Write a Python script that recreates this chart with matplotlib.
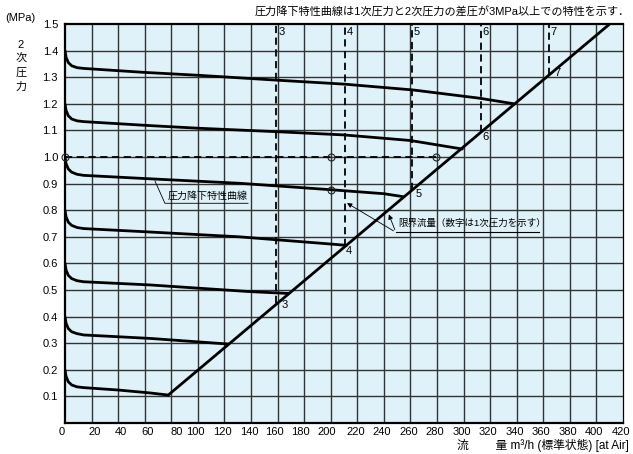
import numpy as np
import matplotlib
matplotlib.use("Agg")
import matplotlib.pyplot as plt
from matplotlib.transforms import ScaledTranslation

plt.rcParams['font.family'] = ['Liberation Sans', 'Noto Sans CJK JP']

# 圧力降下特性曲線 (2次圧力 設定値ごと)
curve_02_x = [0, 0.8, 2.5, 5, 9, 14, 40, 64, 77.7]
curve_02_y = [0.20, 0.175, 0.155, 0.143, 0.136, 0.133, 0.124, 0.113, 0.105]
curve_04_x = [0, 0.8, 2.5, 5, 9, 14, 64, 114, 122.8]
curve_04_y = [0.40, 0.375, 0.355, 0.343, 0.336, 0.331, 0.318, 0.300, 0.297]
curve_06_x = [0, 0.8, 2.5, 5, 9, 14, 64, 139, 168]
curve_06_y = [0.60, 0.575, 0.555, 0.543, 0.535, 0.531, 0.519, 0.494, 0.487]
curve_08_x = [0, 0.8, 2.5, 5, 9, 14, 64, 131, 192, 211.8]
curve_08_y = [0.80, 0.775, 0.755, 0.743, 0.735, 0.731, 0.718, 0.700, 0.676, 0.668]
curve_10_x = [0, 0.8, 2.5, 5, 9, 14, 64, 132, 200, 240, 254.5]
curve_10_y = [1.00, 0.975, 0.955, 0.943, 0.935, 0.931, 0.918, 0.901, 0.877, 0.862, 0.851]
curve_12_x = [0, 0.8, 2.5, 5, 9, 14, 64, 101, 160, 210, 260, 299]
curve_12_y = [1.20, 1.175, 1.155, 1.143, 1.136, 1.133, 1.118, 1.108, 1.095, 1.083, 1.062, 1.03]
curve_14_x = [0, 0.8, 2.5, 5, 9, 14, 60, 101, 159, 210, 262, 312, 338]
curve_14_y = [1.40, 1.375, 1.355, 1.343, 1.336, 1.333, 1.318, 1.307, 1.289, 1.274, 1.252, 1.221, 1.20]

curves = [(curve_02_x, curve_02_y), (curve_04_x, curve_04_y), (curve_06_x, curve_06_y),
          (curve_08_x, curve_08_y), (curve_10_x, curve_10_y), (curve_12_x, curve_12_y),
          (curve_14_x, curve_14_y)]

# 限界流量の直線
critical_x = [77.7, 410]
critical_y = [0.105, 1.5]

# 1次圧力ごとの限界流量 (縦の破線)
primary_labels = ["3", "4", "5", "6", "7"]
primary_flow = [159, 210.5, 261, 313, 364]
primary_p2 = [0.451, 0.665, 0.877, 1.095, 1.308]

# 読み取り例 (横の破線と丸印)
example_x = [0, 200, 200, 279.5]
example_y = [1.0, 1.0, 0.877, 1.0]

x_ticks = list(range(0, 421, 20))
y_ticks = [0.1, 0.2, 0.3, 0.4, 0.5, 0.6, 0.7, 0.8, 0.9, 1.0, 1.1, 1.2, 1.3, 1.4, 1.5]

fig = plt.figure(figsize=(6.33, 4.54), dpi=100)
ax = fig.add_axes([65 / 633, 31 / 454, 558 / 633, 399 / 454])
ax.set_facecolor('#dff1f9')
ax.set_xlim(0, 420)
ax.set_ylim(0, 1.5)

# グリッド
for x in x_ticks[1:-1]:
    ax.axvline(x, color='#333333', lw=1.0, zorder=1)
for y in y_ticks[:-1]:
    ax.axhline(y, color='#333333', lw=1.0, zorder=1)

for side in ['left', 'bottom', 'top']:
    ax.spines[side].set_linewidth(1.6)
ax.spines['right'].set_linewidth(0.9)

ax.set_xticks(x_ticks)
ax.set_xticklabels([str(v) for v in x_ticks], fontsize=8)
ax.set_yticks(y_ticks)
ax.set_yticklabels([f"{v:.1f}" for v in y_ticks], fontsize=8)
ax.tick_params(length=0, pad=5)
ax.tick_params(axis='x', pad=3)

# 数字の位置を少し詰める
shift_px = {0: -3, 20: 3, 40: 3, 60: 3, 80: 5, 100: -3, 160: -3, 180: -4, 200: -4}
for v, lab in zip(x_ticks, ax.get_xticklabels()):
    dx = shift_px.get(v, -2)
    lab.set_transform(lab.get_transform() + ScaledTranslation(dx / 100, 0, fig.dpi_scale_trans))

# 特性曲線
for cx, cy in curves:
    ax.plot(cx, cy, color='black', lw=2.0, solid_capstyle='round', zorder=4)
ax.plot(critical_x, critical_y, color='black', lw=2.0, zorder=4, clip_on=True)

# 破線
for lab, fx, p2 in zip(primary_labels, primary_flow, primary_p2):
    ax.plot([fx, fx], [p2, 1.5], color='black', lw=1.3, ls=(0, (4, 2.5)), zorder=3)
    ax.text(fx + 1.5, 1.49, lab, fontsize=8, ha='left', va='top', zorder=5)
bottom_lab_pos = [(163, 0.445), (211, 0.645), (264, 0.86), (314, 1.075), (368, 1.315)]
for lab, (tx, ty) in zip(primary_labels, bottom_lab_pos):
    ax.text(tx, ty, lab, fontsize=8, ha='left', va='center', zorder=5)

ax.plot([example_x[0], example_x[3]], [1.0, 1.0], color='black', lw=1.3,
        ls=(0, (4, 2.5)), zorder=3)
ax.plot(example_x, example_y, 'o', ms=5, mfc='none', mec='#222222', mew=0.8,
        zorder=6, clip_on=False)

# 注記
ax.plot([67.7, 75.2, 137.8], [0.91, 0.826, 0.826], color='black', lw=0.6, zorder=5)
ax.text(77, 0.852, "圧力降下特性曲線", fontsize=7.2, ha='left', va='center', zorder=5)

ax.plot([249, 357], [0.717, 0.717], color='black', lw=0.8, zorder=5)
ax.annotate("", xy=(210.5, 0.832), xytext=(249, 0.717),
            arrowprops=dict(arrowstyle='-|>', lw=0.6, color='black', mutation_scale=7),
            zorder=5)
ax.annotate("", xy=(243, 0.794), xytext=(249, 0.717),
            arrowprops=dict(arrowstyle='-|>', lw=0.6, color='black', mutation_scale=7),
            zorder=5)
ax.text(251, 0.750, "限界流量（数字は1次圧力を示す）", fontsize=6.8, ha='left',
        va='center', zorder=5)

# 軸まわりの文字
fig.text(5 / 633, 1 - 18 / 454, "(MPa)", fontsize=8, ha='left', va='center')
fig.text(21 / 633, 1 - 66 / 454, "2\n次\n圧\n力", fontsize=8, ha='center', va='center',
         linespacing=1.45)
fig.text(630 / 633, 1 - 12 / 454,
         "圧力降下特性曲線は1次圧力と2次圧力の差圧が3MPa以上での特性を示す．",
         fontsize=8, ha='right', va='center')
fig.text(629 / 633, 1 - 445 / 454, "流　　 量 m³/h (標準状態) [at Air]", fontsize=8.5,
         ha='right', va='center')

fig.savefig("out.png", dpi=100)
